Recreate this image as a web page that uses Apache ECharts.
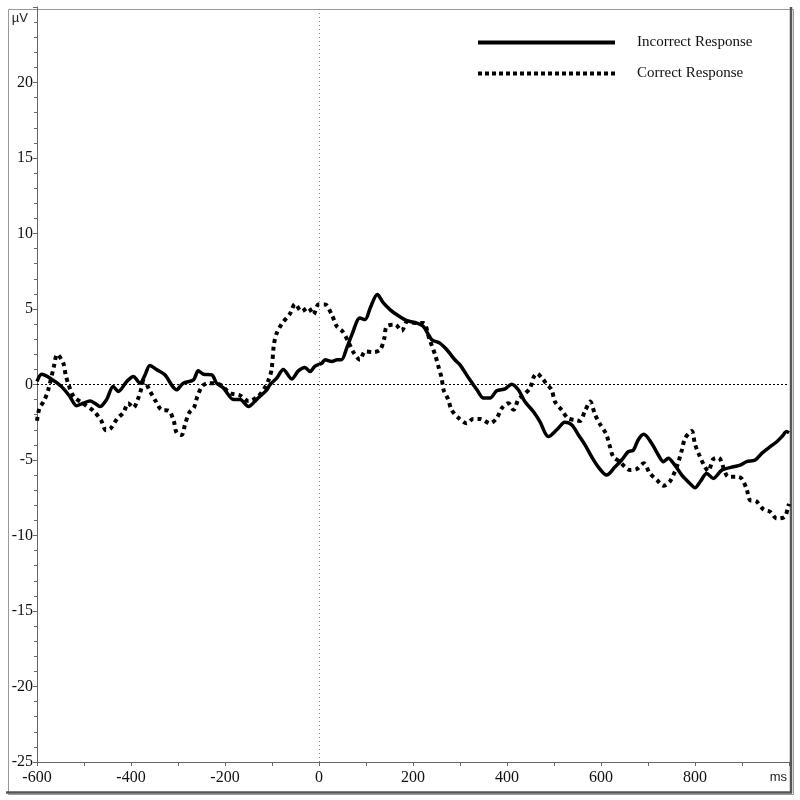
<!DOCTYPE html>
<html>
<head>
<meta charset="utf-8">
<script src="https://cdn.jsdelivr.net/npm/echarts@6/dist/echarts.min.js"></script>
<style>html,body{margin:0;padding:0;background:#fff}#c{width:800px;height:800px}</style>
</head>
<body>
<div id="c"></div>
<script>
const xTicks = [-600, -400, -200, 0, 200, 400, 600, 800];
const yTicks = [-25, -20, -15, -10, -5, 0, 5, 10, 15, 20];
const seriesNames = ['Incorrect Response', 'Correct Response'];

const incorrectMs = [-600,-590,-572,-548,-530,-516,-502,-487,-477,-466,-452,-438,-427,-409,-395,-381,-370,-360,-345,-328,-303,-289,-267,-257,-246,-228,-218,-203,-182,-168,-150,-133,-126,-111,-104,-90,-76,-58,-44,-30,-19,-9,6,13,27,39,48,59,70,87,98,109,124,137,151,165,187,208,222,240,257,272,289,300,321,336,350,364,378,396,410,424,438,456,470,488,506,523,538,552,566,580,594,612,630,644,658,669,679,691,708,722,733,743,757,772,789,800,811,825,839,857,882,896,910,928,942,960,974,985,995,1000];
const incorrectUv = [0.2,0.68,0.42,-0.13,-0.8,-1.4,-1.24,-1.1,-1.24,-1.46,-1.0,-0.13,-0.46,0.2,0.53,0.09,0.64,1.26,0.97,0.64,-0.35,0.09,0.31,0.91,0.68,0.64,0.09,-0.24,-1.0,-1.0,-1.46,-1.0,-0.8,-0.35,0,0.42,1.0,0.37,0.9,1.13,0.86,1.2,1.41,1.64,1.53,1.64,1.64,2.41,3.3,4.4,4.3,5.07,5.96,5.4,4.96,4.63,4.23,4.07,3.85,2.97,2.74,2.3,1.64,1.3,0.31,-0.35,-0.9,-0.9,-0.42,-0.29,0.02,-0.35,-1.13,-1.79,-2.46,-3.45,-3.0,-2.5,-2.68,-3.34,-4.0,-4.78,-5.45,-6.0,-5.45,-5.0,-4.45,-4.34,-3.67,-3.3,-3.9,-4.67,-5.11,-4.89,-5.34,-6.0,-6.55,-6.84,-6.44,-5.89,-6.22,-5.67,-5.45,-5.34,-5.11,-5.0,-4.56,-4.12,-3.79,-3.45,-3.12,-3.2];

const correctMs = [-600,-595,-585,-576,-564,-557,-544,-539,-533,-522,-500,-480,-464,-453,-443,-429,-416,-406,-395,-384,-371,-360,-348,-335,-320,-309,-303,-292,-285,-276,-266,-259,-248,-236,-211,-189,-168,-150,-130,-115,-108,-101,-96,-90,-78,-62,-51,-37,-23,-12,-1,13,27,38,50,62,73,87,98,116,130,139,144,162,176,188,204,222,235,247,254,261,265,275,282,296,314,328,343,364,378,389,403,414,424,435,449,457,464,475,485,495,502,516,530,545,555,566,577,587,598,611,618,626,640,651,662,676,691,704,719,733,747,757,765,772,779,793,800,809,821,828,839,850,871,889,899,910,917,930,946,960,974,991,998,1000];
const correctUv = [-2.4,-1.6,-1.08,-0.35,1.2,2.0,1.41,0.64,0,-0.8,-1.3,-1.75,-2.35,-3.03,-2.9,-2.24,-1.86,-1.24,-1.53,-0.86,0.2,-0.42,-1.08,-1.68,-1.73,-2.41,-3.2,-3.34,-2.63,-1.86,-1.53,-0.8,-0.09,0.09,0,-0.57,-0.73,-1.1,-0.8,-0.2,0.24,0.97,2.63,3.4,4.07,4.67,5.33,4.85,5.1,4.63,5.3,5.3,4.63,3.85,3.52,2.86,2.15,1.64,2.19,2.15,2.3,3.07,3.85,3.96,3.56,4.18,4.07,4.07,3.0,1.97,1.2,0.42,-0.35,-1.0,-1.68,-2.19,-2.57,-2.28,-2.28,-2.57,-2.24,-1.57,-1.24,-1.68,-1.0,-0.7,-0.24,0.5,0.73,0.4,0.0,-0.35,-1.13,-1.68,-2.24,-2.35,-2.41,-1.75,-1.13,-1.97,-2.63,-3.28,-4.0,-4.78,-5.11,-5.45,-5.67,-5.6,-5.22,-5.89,-6.33,-6.71,-6.4,-5.78,-5.11,-4.34,-3.56,-3.08,-3.96,-4.67,-5.45,-5.73,-4.94,-4.85,-6.11,-6.11,-6.22,-6.93,-7.66,-7.73,-8.28,-8.43,-8.88,-8.76,-8.1,-7.9];

const zip = (a, b) => a.map((v, i) => [v, b[i]]);
const serif = '"Liberation Serif", "Times New Roman", serif';
const sans = '"Liberation Sans", Arial, sans-serif';

const chart = echarts.init(document.getElementById('c'), null, {renderer: 'canvas'});
chart.setOption({
  animation: false,
  backgroundColor: '#fff',
  grid: {left: 37, right: 11, top: 7, bottom: 38},
  legend: {
    orient: 'vertical',
    left: 476,
    top: 35,
    padding: 0,
    itemWidth: 137,
    itemHeight: 14,
    itemGap: 16,
    itemStyle: {opacity: 0},
    data: [
      {name: seriesNames[0], lineStyle: {width: 4, color: '#000', type: 'solid'}},
      {name: seriesNames[1], lineStyle: {width: 4, color: '#000', type: [4, 3]}}
    ],
    textStyle: {fontFamily: serif, fontSize: 15, color: '#111', padding: [0, 0, 0, 17]}
  },
  xAxis: {
    type: 'value', min: -600, max: 1000, interval: 200,
    name: 'ms', nameLocation: 'end', nameGap: 0,
    nameTextStyle: {fontFamily: sans, fontSize: 13, color: '#222', align: 'right', verticalAlign: 'top', padding: [9, 2, 0, 0]},
    axisLine: {onZero: false, lineStyle: {color: '#666', width: 1}},
    axisTick: {show: true, length: 4, lineStyle: {color: '#666'}},
    minorTick: {show: true, splitNumber: 2, length: 4, lineStyle: {color: '#666'}},
    splitLine: {show: false},
    axisLabel: {fontFamily: serif, fontSize: 16, color: '#111', margin: 8,
      formatter: v => xTicks.includes(v) ? String(v) : ''}
  },
  yAxis: {
    type: 'value', min: -25, max: 25, interval: 5,
    name: 'µV', nameLocation: 'end', nameGap: 0,
    nameTextStyle: {fontFamily: sans, fontSize: 13, color: '#222', align: 'right', verticalAlign: 'top', padding: [5, 9, 0, 0]},
    axisLine: {onZero: false, lineStyle: {color: '#666', width: 1}},
    axisTick: {show: true, length: 4, lineStyle: {color: '#666'}},
    minorTick: {show: true, splitNumber: 5, length: 3, lineStyle: {color: '#666'}},
    splitLine: {show: false},
    axisLabel: {fontFamily: serif, fontSize: 16, color: '#111', margin: 4,
      formatter: v => yTicks.includes(v) ? String(v) : ''}
  },
  series: [
    {
      name: seriesNames[0], type: 'line', data: zip(incorrectMs, incorrectUv),
      symbol: 'none', smooth: 0.3,
      lineStyle: {color: '#000', width: 3.5},
      itemStyle: {color: '#000'},
      z: 3,
      markLine: {
        silent: true, symbol: 'none', label: {show: false},
        data: [
          {yAxis: 0, lineStyle: {color: '#000', type: [2, 2], width: 1}},
          {xAxis: 0, lineStyle: {color: '#888', type: [1, 3], width: 1}}
        ]
      }
    },
    {
      name: seriesNames[1], type: 'line', data: zip(correctMs, correctUv),
      symbol: 'none', smooth: 0.3,
      lineStyle: {color: '#000', width: 4, type: [4, 4]},
      itemStyle: {color: '#000'},
      z: 2
    }
  ],
  graphic: [
    {type: 'rect', left: 6, top: 7, shape: {width: 785, height: 785}, style: {fill: 'none', stroke: '#999', lineWidth: 1}, silent: true},
    {type: 'line', shape: {x1: 791, y1: 7, x2: 791, y2: 793}, style: {stroke: '#555', lineWidth: 2.5}, silent: true},
    {type: 'line', shape: {x1: 6, y1: 792.5, x2: 792, y2: 792.5}, style: {stroke: '#555', lineWidth: 2.5}, silent: true}
  ]
});
</script>
</body>
</html>
